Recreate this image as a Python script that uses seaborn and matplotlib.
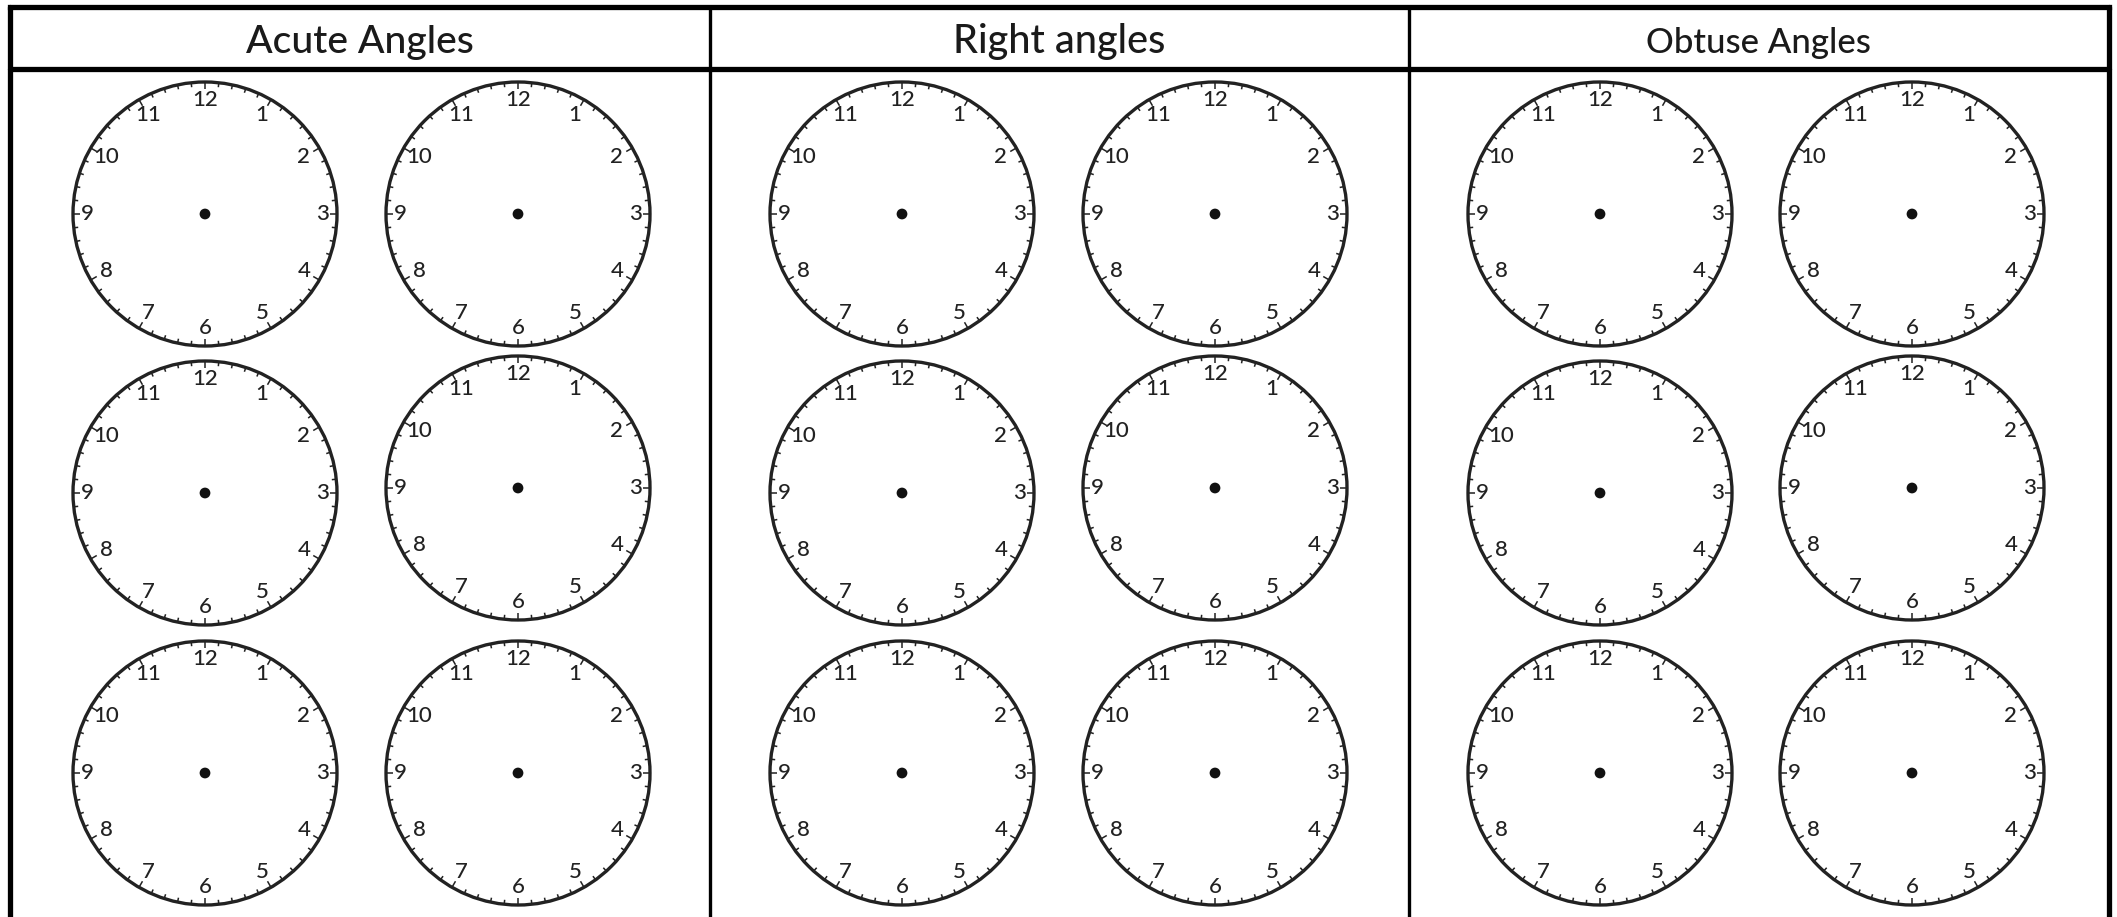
import numpy as np
import pandas as pd
import matplotlib
matplotlib.use("Agg")
import matplotlib.pyplot as plt
from matplotlib.patches import Circle
from matplotlib.collections import LineCollection
import seaborn as sns

# ---- data ----
section_titles = ["Acute Angles", "Right angles", "Obtuse Angles"]
hour_labels = ["12", "1", "2", "3", "4", "5", "6", "7", "8", "9", "10", "11"]
clock_rows = [1, 2, 3]
clock_cols = ["left", "right"]
minute_marks = list(range(60))

# ---- layout (pixels) ----
W, H = 2117, 917
col_bounds = [9.5, 709.5, 1408.5, 2108.5]
title_sizes = [28.2, 28.5, 25.0]
clock_x = [[205, 518], [902, 1215], [1600, 1912]]
header_y = 68.5
top_y = 6.5
row_y = {1: 214, 2: 493, 3: 773}
row_y_right = {1: 214, 2: 488, 3: 773}
R = 132
num_r = 114
ink = "#222222"

sns.set_theme(style="white")
plt.rcParams["font.family"] = ["Lato", "DejaVu Sans"]

fig = plt.figure(figsize=(W / 100, H / 100), dpi=100)
ax = fig.add_axes([0, 0, 1, 1])
ax.set_xlim(0, W)
ax.set_ylim(H, 0)
ax.axis("off")

# grid lines
ax.plot([col_bounds[0], col_bounds[-1]], [top_y, top_y], color="black", lw=3.8, solid_capstyle="projecting")
ax.plot([col_bounds[0], col_bounds[-1]], [header_y, header_y], color="black", lw=3.8)
for i, xb in enumerate(col_bounds):
    lw = 3.8 if i in (0, len(col_bounds) - 1) else 2.4
    ax.plot([xb, xb], [top_y, H + 5], color="black", lw=lw)

# titles
for i, t in enumerate(section_titles):
    cx = (col_bounds[i] + col_bounds[i + 1]) / 2
    ax.text(cx, 53, t, ha="center", va="baseline", fontsize=title_sizes[i],
            color="#1a1a1a", fontweight="medium")

# clocks
centers = []
for i in range(len(section_titles)):
    for r in clock_rows:
        for j, c in enumerate(clock_cols):
            x = clock_x[i][j]
            y = row_y[r] if c == "left" else row_y_right[r]
            centers.append((x, y))

segs = []
for (x, y) in centers:
    ax.add_patch(Circle((x, y), R, fill=False, ec=ink, lw=2.4, zorder=3))
    for m in minute_marks:
        a = np.deg2rad(90 - m * 6)
        L = 7 if m % 5 == 0 else 4.5
        segs.append([(x + R * np.cos(a), y - R * np.sin(a)),
                     (x + (R - L) * np.cos(a), y - (R - L) * np.sin(a))])
    for h, lab in enumerate(hour_labels):
        a = np.deg2rad(90 - h * 30)
        rr = num_r + (4 if lab in ("3", "9") else 0)
        ax.text(x + rr * np.cos(a), y - rr * np.sin(a), lab, ha="center", va="center",
                fontsize=16, color=ink, fontweight="medium", zorder=4)

ax.add_collection(LineCollection(segs, colors=ink, linewidths=1.1, zorder=3))

df = pd.DataFrame(centers, columns=["x", "y"])
sns.scatterplot(data=df, x="x", y="y", ax=ax, s=60, color="#111111", edgecolor="none", zorder=5, legend=False)
ax.set_xlim(0, W)
ax.set_ylim(H, 0)
ax.axis("off")

fig.savefig("out.png", dpi=100, facecolor="white")
